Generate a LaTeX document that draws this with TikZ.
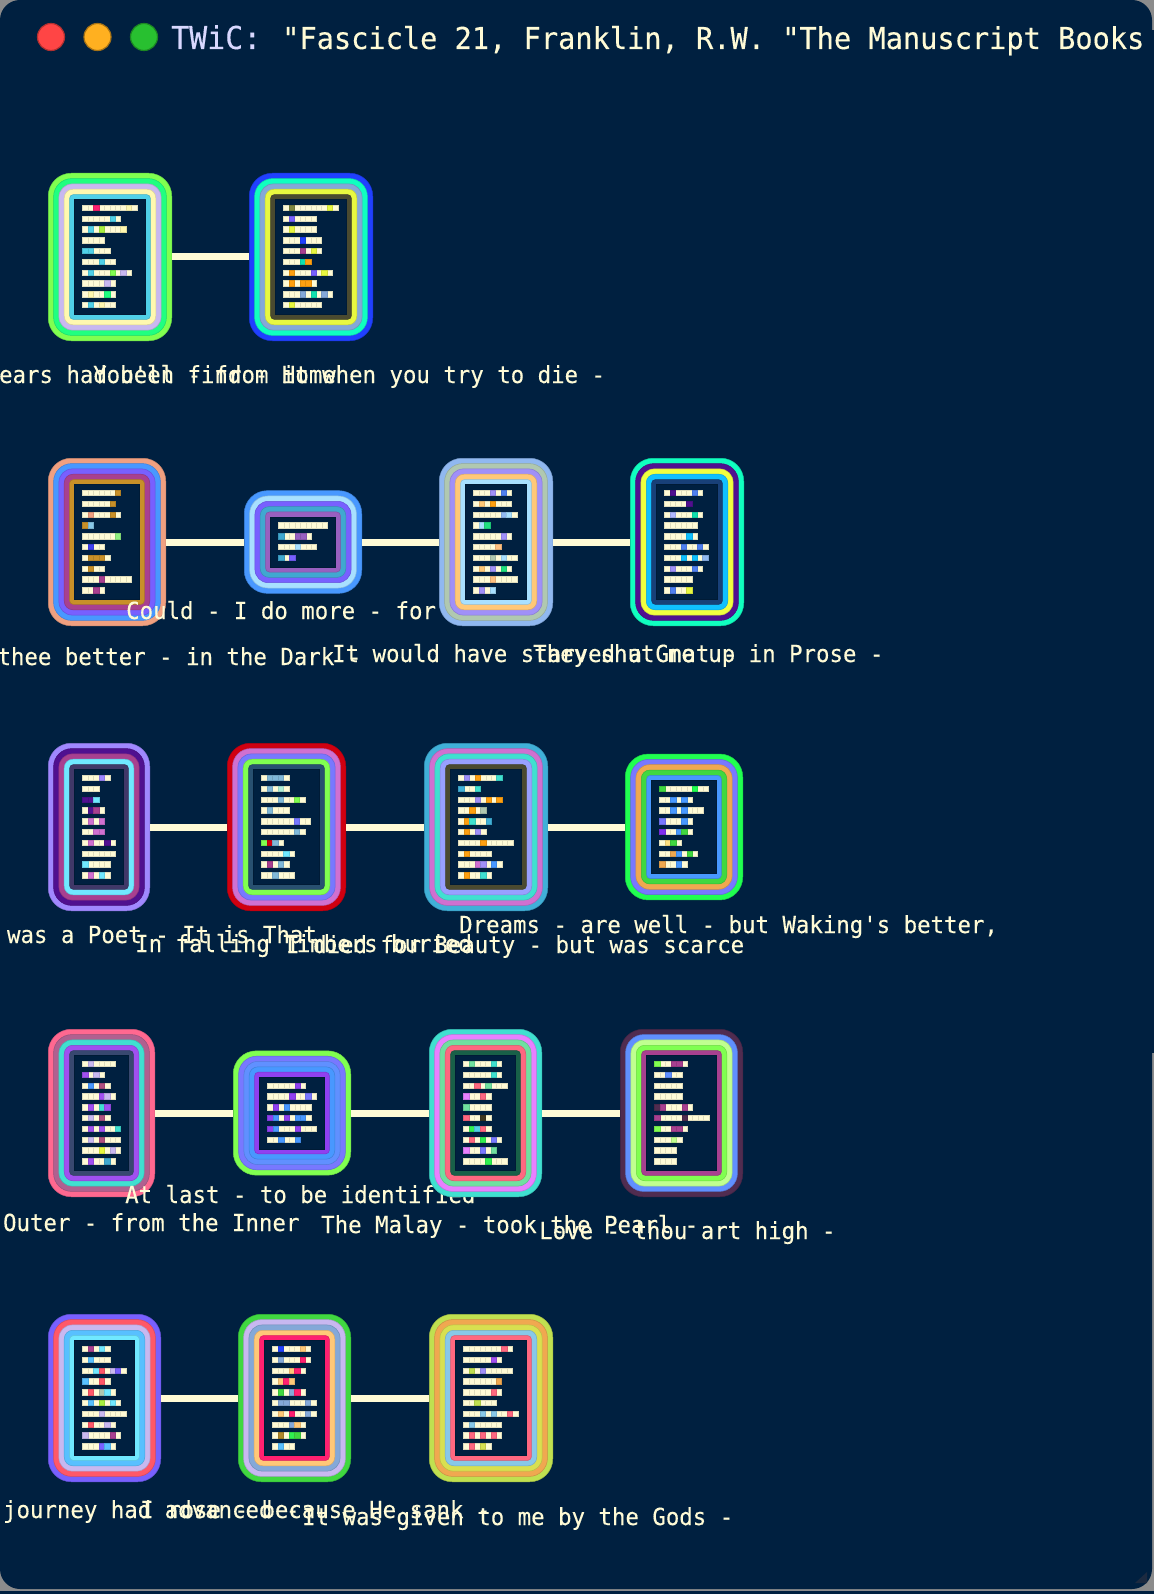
\documentclass[tikz,border=0pt]{standalone}
\usepackage{fontspec}
\newfontfamily\termfont[FakeStretch=0.95, FakeBold=0.25]{DejaVu Sans Mono}
\usetikzlibrary{positioning}
\definecolor{mnight}{HTML}{002040}
\definecolor{mframe}{HTML}{8C8C8C}
\definecolor{mgrip}{HTML}{1C2A40}
\definecolor{mcream}{HTML}{FFFBD6}
\definecolor{mtitle}{HTML}{D8D8FF}
\definecolor{mredlamp}{HTML}{FF4545}
\definecolor{mamberlamp}{HTML}{FFB020}
\definecolor{mgreenlamp}{HTML}{28C030}
\definecolor{mlime}{HTML}{80FF50}
\definecolor{mspring}{HTML}{20FF80}
\definecolor{mlilac}{HTML}{C8B8F0}
\definecolor{mbutter}{HTML}{FFF8B0}
\definecolor{msky}{HTML}{50D0E8}
\definecolor{mpink}{HTML}{FF2070}
\definecolor{mtwig}{HTML}{A8F040}
\definecolor{mblue}{HTML}{2040FF}
\definecolor{mmint}{HTML}{10FFC0}
\definecolor{msteel}{HTML}{84A8D8}
\definecolor{myellow}{HTML}{E8F840}
\definecolor{mdusk}{HTML}{4A4A30}
\definecolor{molive}{HTML}{808840}
\definecolor{mviolet}{HTML}{7860FF}
\definecolor{morange}{HTML}{FFA010}
\definecolor{mplum}{HTML}{A84090}
\definecolor{mjade}{HTML}{10E0B0}
\definecolor{msalmon}{HTML}{F0A080}
\definecolor{mazure}{HTML}{4898FF}
\definecolor{mochre}{HTML}{C89028}
\definecolor{mice}{HTML}{88C8E8}
\definecolor{mfern}{HTML}{90F080}
\definecolor{mindigo}{HTML}{4040F0}
\definecolor{mfrost}{HTML}{A8E0FF}
\definecolor{mteal}{HTML}{40A8D0}
\definecolor{mgrape}{HTML}{9860C0}
\definecolor{msage}{HTML}{B0C8B0}
\definecolor{mwisteria}{HTML}{A090F8}
\definecolor{mpeach}{HTML}{FFC878}
\definecolor{mcorn}{HTML}{90B8F0}
\definecolor{memerald}{HTML}{20E080}
\definecolor{mapricot}{HTML}{FFC080}
\definecolor{mpurple}{HTML}{501090}
\definecolor{mcanary}{HTML}{F0FF40}
\definecolor{mcyan}{HTML}{10C0FF}
\definecolor{mnavy}{HTML}{184078}
\definecolor{mcobalt}{HTML}{5080F0}
\definecolor{mhaze}{HTML}{B0B8FF}
\definecolor{mperi}{HTML}{A088FF}
\definecolor{maqua}{HTML}{70E8FF}
\definecolor{mdeep}{HTML}{403868}
\definecolor{morchid}{HTML}{D070D0}
\definecolor{mred}{HTML}{D00010}
\definecolor{mwave}{HTML}{7878FF}
\definecolor{mslate}{HTML}{285070}
\definecolor{mshell}{HTML}{80B8D8}
\definecolor{mfoam}{HTML}{B0F0D8}
\definecolor{mcerulean}{HTML}{40B0D8}
\definecolor{mturq}{HTML}{40E0D0}
\definecolor{mmauve}{HTML}{98A0FF}
\definecolor{mleaf}{HTML}{40D840}
\definecolor{mgreen}{HTML}{20FF50}
\definecolor{mtan}{HTML}{F0A850}
\definecolor{mamber}{HTML}{FFE080}
\definecolor{mvivid}{HTML}{8030F0}
\definecolor{mrose}{HTML}{FF6890}
\definecolor{mdust}{HTML}{B06090}
\definecolor{mpurp}{HTML}{A050F0}
\definecolor{mdenim}{HTML}{384870}
\definecolor{mberry}{HTML}{B05080}
\definecolor{mamethyst}{HTML}{9040F0}
\definecolor{mhelio}{HTML}{E880FF}
\definecolor{mseafoam}{HTML}{70E0A0}
\definecolor{mcoral}{HTML}{FF6880}
\definecolor{mforest}{HTML}{186048}
\definecolor{mbark}{HTML}{403820}
\definecolor{mneon}{HTML}{30F050}
\definecolor{mumber}{HTML}{502C50}
\definecolor{mflower}{HTML}{6090FF}
\definecolor{mpist}{HTML}{C0FF90}
\definecolor{mcapri}{HTML}{58C0FF}
\definecolor{mtomato}{HTML}{FF5868}
\definecolor{mcitron}{HTML}{D8E050}
\definecolor{mchart}{HTML}{C0E050}
\definecolor{mbronze}{HTML}{B08828}
\tikzset{ring/.style = {fill=#1, draw=#1!85!black, line width=0.5pt,
                        inner sep=0, outer sep=0, rectangle}}
\tikzset{cell/.style = {fill=#1, draw=#1!88!black, line width=0.2pt}}
\tikzset{link/.style = {draw=mcream, line width=7pt}}
\tikzset{label/.style = {text=mcream, inner sep=0, anchor=base west,
                         font=\termfont\fontsize{23.55}{25}\selectfont}}
\tikzset{lamp/.style 2 args = {circle, fill=#1, draw=#2, line width=1.2pt,
                               minimum size=27pt, inner sep=0}}
\newcommand{\tile}[7]{
  \pgfmathsetmacro{\tileh}{60+10.8*#5}
  \foreach \hue [count=\kk from 0] in {#6} {
    \pgfmathsetmacro{\ringw}{#4-2*\kk*5.33-0.5}
    \pgfmathsetmacro{\ringh}{\tileh-2*\kk*5.33-0.5}
    \pgfmathsetmacro{\ringr}{23-\kk*4.8}
    \node [ring=\hue, minimum width=\ringw pt, minimum height=\ringh pt,
           rounded corners=\ringr pt] (#1r\kk) at ({#2+#4/2}, #3) {};
  }
  \node [ring=mnight, minimum width={(#4-53.3)*1pt}, minimum height={(\tileh-53.3)*1pt}]
        (#1in) at ({#2+#4/2}, #3) {};
  \foreach \num/\marks [count=\rw from 0] in {#7} {
    \pgfmathsetmacro{\rowy}{#3-\tileh/2+32+10.8*\rw}
    \foreach \kk in {1,...,\num} {
      \fill [cell=mcream] ({#2+34.5+(\kk-1)*5.43}, \rowy) rectangle ++(5.43, 5.4);
    }
    \foreach \idx/\hue in \marks {
      \fill [cell=\hue] ({#2+34.5+\idx*5.43}, \rowy) rectangle ++(5.43, 5.4);
    }
  }
}
\begin{document}
\begin{tikzpicture}[x=1pt, y=-1pt]
  \useasboundingbox (0, 0) rectangle (1154, 1594);
  \fill [mnight] (0, 0) rectangle (1154, 1594);
  \fill [mframe] (0, 0) rectangle (1154, 1591);
  \fill [mnight, rounded corners=20pt] (0, 0) rectangle (1152, 1589);
  \fill [mnight] (1130, 30) rectangle (1154, 1053);
  \fill [mgrip] (1147, 1572) -- (1147, 1583) -- (1135, 1583) -- cycle;

  \node [lamp={mredlamp}{mredlamp!70!black}] (lampred) at (51, 37) {};
  \node [lamp={mamberlamp}{mamberlamp!65!black}] (lampamber) at (97.5, 37) {};
  \node [lamp={mgreenlamp}{mgreenlamp!70!black}] (lampgreen) at (144, 37) {};
  \node [text=mtitle, inner sep=0, anchor=base west, font=\termfont\fontsize{31.5}{33}\selectfont]
        (titlehead) at (171, 49) {TWiC:};
  \node [text=mcream, inner sep=0, anchor=base west, font=\termfont\fontsize{30.15}{32}\selectfont]
        (titlerest) at (282, 49) {"Fascicle 21, Franklin, R.W. "The Manuscript Books};

  \tile{t11}{48}{257}{124}{10}{mlime,mspring,mlilac,mbutter,msky}{
    10/{2/mpink,8/mbutter}, 7/{5/msky}, 8/{1/msky,3/mtwig,7/mbutter}, 4/{0/mcream},
    5/{0/msky,1/msky}, 6/{3/msky}, 9/{1/msky,5/mlime,7/mlilac}, 6/{4/mlilac},
    6/{1/mbutter,4/mspring}, 6/{1/msky,3/mbutter}}
  \node [label] (lab11) at (-41.5, 383) {I Years had been - from Home};

  \tile{t12}{249}{257}{124}{10}{mblue,mmint,msteel,myellow,mdusk}{
    10/{1/molive,8/myellow}, 6/{1/mviolet}, 6/{1/myellow}, 7/{3/mblue},
    7/{3/mplum,5/myellow}, 5/{3/mjade,4/morange}, 9/{1/morange,5/mviolet,7/myellow},
    6/{1/morange,3/morange,4/morange}, 9/{3/msteel,5/mjade,7/msteel}, 7/{1/myellow}}
  \node [label] (lab12) at (93, 383) {You'll find - it when you try to die -};

  \tile{t21}{48}{542}{118}{10}{msalmon,mazure,mviolet,mplum,mochre}{
    7/{6/mochre}, 6/{5/mochre}, 7/{1/msalmon,5/mochre}, 2/{0/mochre,1/mice},
    7/{6/mfern}, 4/{1/mindigo}, 5/{1/mochre,2/mochre,3/mochre}, 4/{1/mochre},
    9/{3/mplum}, 4/{2/mplum}}
  \node [label] (lab21) at (-83.5, 665) {I see thee better - in the Dark -};

  \tile{t22}{244}{542}{118}{4}{mazure,mfrost,mviolet,mteal,mgrape}{
    9/{0/mcream}, 6/{0/mteal,3/mgrape,4/mgrape}, 7/{3/mfrost}, 3/{0/mteal,2/mviolet}}
  \node [label] (lab22) at (126, 619) {Could - I do more - for Thee -};

  \tile{t23}{439}{542}{114}{10}{mcorn,msage,mwisteria,mpeach,mfrost}{
    7/{3/mwisteria,5/mcobalt}, 7/{1/mpeach,3/morange}, 8/{5/mcorn,6/mfrost},
    3/{1/mfrost,2/memerald}, 7/{5/mwisteria}, 5/{4/mapricot}, 8/{3/msage,5/mfrost},
    7/{1/mpeach,3/mwisteria,5/memerald}, 8/{3/mapricot}, 4/{1/mwisteria,3/mfrost}}
  \node [label] (lab23) at (332, 662) {It would have starved a Gnat -};

  \tile{t24}{630}{542}{114}{10}{mmint,mpurple,mcanary,mcyan,mnavy}{
    7/{1/mpurple,5/mcobalt}, 5/{4/mpurple}, 7/{1/mhaze,5/mjade}, 6/{0/mcream},
    6/{4/mcyan}, 8/{3/mcobalt,6/mcobalt}, 8/{3/mcyan,5/mcyan,7/mcorn},
    7/{1/mwisteria,5/mcobalt}, 5/{0/mcream}, 5/{1/mcobalt,4/myellow}}
  \node [label] (lab24) at (533, 662) {They shut me up in Prose -};

  \tile{t31}{48}{827}{102}{10}{mperi,mpurple,mplum,maqua,mdeep}{
    5/{3/mperi}, 3/{0/mcream}, 3/{0/mpurple,1/mpurple,2/maqua}, 4/{1/mpurple,2/mplum},
    4/{1/morchid,3/morchid}, 4/{2/morchid,3/morchid}, 6/{1/morchid,4/mpurple},
    6/{0/mcream}, 5/{0/maqua}, 5/{1/morchid,3/maqua}}
  \node [label] (lab31) at (-60.5, 943) {This was a Poet - It is That};

  \tile{t32}{227}{827}{119}{10}{mred,morchid,mwave,mlime,mslate}{
    5/{1/mshell,2/mshell,3/mshell}, 5/{1/mshell,3/mfoam}, 8/{3/mshell,6/mlime},
    5/{1/mshell}, 9/{6/mwave}, 8/{6/mshell}, 4/{0/mlime,1/mred,2/mshell},
    6/{4/maqua}, 5/{1/mplum,3/mshell}, 6/{2/mshell}}
  \node [label] (lab32) at (135, 952) {In falling Timbers buried};

  \tile{t33}{424}{827}{124}{10}{mcerulean,morchid,mturq,mmauve,mdusk}{
    8/{1/mwisteria,3/morange,7/mturq}, 4/{0/mcerulean,3/mturq},
    8/{3/mwisteria,5/morange,7/morange}, 5/{2/morange,4/msage},
    6/{1/morange,2/mturq,5/mcerulean}, 5/{1/morange,3/mwisteria}, 10/{4/morange},
    6/{1/morange}, 8/{3/morchid,4/mwisteria,6/mazure}, 6/{1/morange,4/mturq}}
  \node [label] (lab33) at (286, 953) {I died for Beauty - but was scarce};

  \tile{t34}{625}{827}{118}{8}{mgreen,mwave,mtan,mleaf,mazure}{
    9/{0/mleaf,6/mgreen}, 6/{2/mazure,4/mazure}, 8/{2/mazure,4/mazure},
    6/{0/mwave,4/mazure}, 6/{0/mvivid,3/mazure,4/mleaf}, 4/{1/mamber,2/mleaf},
    7/{2/mtan,3/mazure,5/mleaf}, 5/{0/mtan,3/mazure}}
  \node [label] (lab34) at (459, 933) {Dreams - are well - but Waking's better,};

  \tile{t41}{48}{1113}{107}{10}{mrose,mdust,mturq,mpurp,mdenim}{
    6/{1/mlilac}, 4/{0/mpurp,2/mlilac}, 5/{1/mazure,3/mberry}, 6/{3/mpurp,4/mlilac},
    5/{1/mpurp,3/mturq,4/mpurp}, 5/{1/mlilac,3/mberry}, 7/{1/mpurp,3/mpurp,6/mturq},
    7/{1/mlilac,3/mberry}, 7/{3/myellow,5/mlilac}, 6/{1/mpurp,4/mteal}}
  \node [label] (lab41) at (-51, 1231) {The Outer - from the Inner};

  \tile{t42}{233}{1113}{118}{6}{mlime,mwave,mflower,mazure,mamethyst}{
    7/{5/mamethyst}, 9/{4/mamethyst,7/mwave}, 8/{1/mamethyst,3/mazure},
    8/{0/mamethyst,1/mazure,3/mamethyst,5/mazure,6/mazure},
    9/{0/mamethyst,1/mazure,5/mamethyst}, 6/{2/mazure,5/mazure}}
  \node [label] (lab42) at (125, 1203) {At last - to be identified};

  \tile{t43}{429}{1113}{113}{10}{mturq,mhelio,mseafoam,mcoral,mforest}{
    7/{1/mseafoam,5/mturq}, 7/{5/mturq}, 8/{2/mcoral,4/mseafoam}, 5/{0/mhelio,3/mcoral},
    5/{0/mseafoam}, 5/{0/mcoral,3/mbark}, 5/{1/mneon,2/msky,3/mcoral},
    7/{1/mcoral,3/mneon,5/mwave}, 6/{0/mhelio,3/mwave,5/mseafoam}, 8/{4/mneon}}
  \node [label] (lab43) at (321, 1233) {The Malay - took the Pearl -};

  \tile{t44}{620}{1113}{123}{10}{mumber,mflower,mpist,mlime,mplum}{
    6/{0/mlime,3/mplum,4/mplum}, 5/{2/mflower}, 5/{0/mcream}, 5/{0/mcream},
    7/{0/mumber,1/mplum,5/mplum}, 10/{0/mplum,5/mumber}, 6/{0/mlime,3/mplum,4/mplum},
    5/{3/mpist}, 4/{0/mcream}, 4/{0/mcream}}
  \node [label] (lab44) at (539, 1239) {Love - thou art high -};

  \tile{t51}{48}{1398}{113}{10}{mviolet,mtomato,mlilac,mcapri,maqua}{
    5/{1/mplum,3/maqua}, 5/{1/mcapri}, 8/{2/maqua,3/mtomato,5/mlilac,6/mviolet},
    5/{0/mcapri,3/mtomato}, 6/{1/mtomato,3/msage,4/maqua}, 7/{1/mcapri,3/mtwig,5/maqua},
    8/{3/mlilac}, 6/{1/mtomato,4/mlilac}, 7/{0/mlilac,5/mplum}, 6/{3/mviolet,4/mcapri}}
  \node [label] (lab51) at (-51, 1518) {Our journey had advanced -};

  \tile{t52}{238}{1398}{113}{10}{mleaf,mlilac,msteel,mpeach,mpink}{
    7/{1/mblue,5/mpeach}, 7/{1/msteel,5/mpink}, 6/{3/mpeach,4/mpink},
    4/{1/mpeach,2/mpink,3/mpeach}, 6/{1/mleaf,3/msteel,4/mpink},
    8/{1/msteel,2/msteel,6/msteel}, 8/{1/mpeach,3/mpink,6/msteel}, 6/{3/msteel,4/mpeach},
    6/{1/mbronze,3/mneon,4/mleaf}, 4/{1/mcapri}}
  \node [label] (lab52) at (140, 1518) {I rose - because He sank -};

  \tile{t53}{429}{1398}{124}{10}{mchart,mtan,mcitron,mice,mcoral}{
    9/{7/mcoral}, 7/{5/mpurp}, 9/{1/mchart,3/mwisteria}, 7/{6/mtan}, 7/{5/mcoral},
    6/{2/mchart}, 10/{3/mice,5/mice,8/mcoral}, 7/{1/mice},
    7/{1/mcoral,3/mcoral,5/mcoral}, 5/{1/mcoral,3/mcitron}}
  \node [label] (lab53) at (302, 1525) {It was given to me by the Gods -};

  \draw [link] (t11r0) -- (t12r0);
  \draw [link] (t21r0) -- (t22r0);
  \draw [link] (t22r0) -- (t23r0);
  \draw [link] (t23r0) -- (t24r0);
  \draw [link] (t31r0) -- (t32r0);
  \draw [link] (t32r0) -- (t33r0);
  \draw [link] (t33r0) -- (t34r0);
  \draw [link] (t41r0) -- (t42r0);
  \draw [link] (t42r0) -- (t43r0);
  \draw [link] (t43r0) -- (t44r0);
  \draw [link] (t51r0) -- (t52r0);
  \draw [link] (t52r0) -- (t53r0);
\end{tikzpicture}
\end{document}
